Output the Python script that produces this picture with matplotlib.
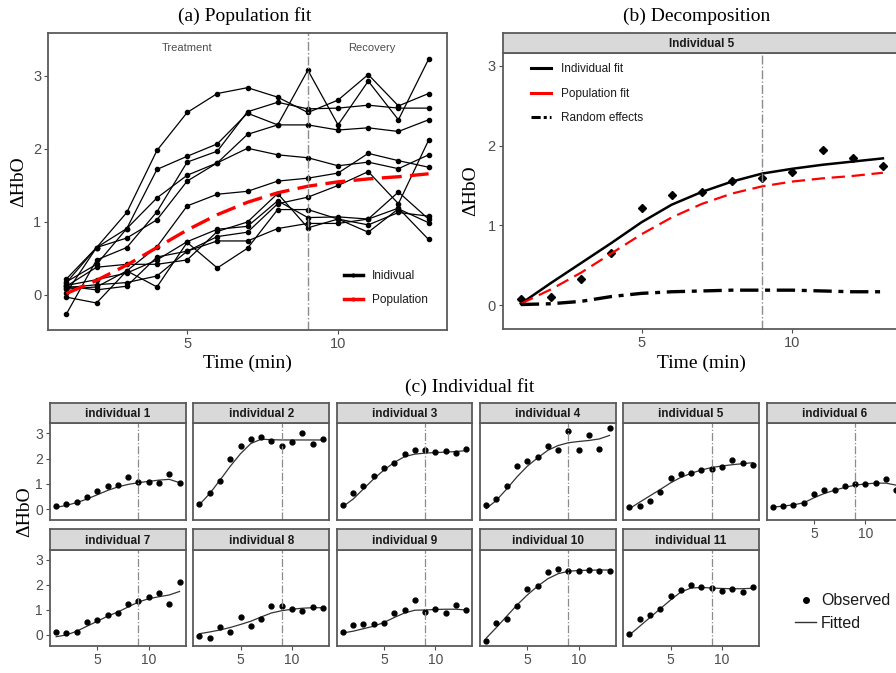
import numpy as np
import matplotlib
matplotlib.use('Agg')
from matplotlib import pyplot as plt
from matplotlib.lines import Line2D

plt.rcParams['font.family'] = ['Liberation Sans', 'DejaVu Sans']

# time points (min)
time = [1, 2, 3, 4, 5, 6, 7, 8, 9, 10, 11, 12, 13]

# observed dHbO per individual
obs_1 = [0.13, 0.21, 0.30, 0.48, 0.73, 0.90, 0.94, 1.29, 1.06, 1.07, 1.04, 1.41, 1.04]
obs_2 = [0.22, 0.65, 1.13, 1.98, 2.50, 2.76, 2.84, 2.71, 2.50, 2.67, 3.02, 2.59, 2.76]
obs_3 = [0.17, 0.65, 0.91, 1.33, 1.64, 1.81, 2.20, 2.33, 2.33, 2.26, 2.29, 2.24, 2.40]
obs_4 = [0.18, 0.42, 0.91, 1.72, 1.90, 2.07, 2.49, 2.33, 3.08, 2.33, 2.93, 2.40, 3.23]
obs_5 = [0.08, 0.11, 0.33, 0.66, 1.22, 1.38, 1.42, 1.56, 1.60, 1.67, 1.94, 1.84, 1.75]
obs_6 = [0.10, 0.14, 0.17, 0.26, 0.60, 0.74, 0.74, 0.91, 0.98, 0.98, 1.04, 1.19, 0.76]
obs_7 = [0.12, 0.07, 0.12, 0.52, 0.60, 0.80, 0.86, 1.25, 1.34, 1.50, 1.69, 1.25, 2.12]
obs_8 = [-0.03, -0.11, 0.33, 0.11, 0.72, 0.37, 0.64, 1.17, 1.17, 1.04, 0.96, 1.13, 1.08]
obs_9 = [0.12, 0.38, 0.42, 0.42, 0.48, 0.87, 1.00, 1.39, 0.92, 1.04, 0.86, 1.18, 0.99]
obs_10 = [-0.26, 0.48, 0.65, 1.14, 1.82, 1.97, 2.51, 2.64, 2.55, 2.56, 2.60, 2.56, 2.56]
obs_11 = [0.03, 0.65, 0.78, 1.03, 1.56, 1.81, 2.01, 1.92, 1.88, 1.77, 1.82, 1.73, 1.92]

# fitted curves per individual
fit_1 = [0.07, 0.15, 0.26, 0.40, 0.57, 0.74, 0.88, 0.98, 1.05, 1.10, 1.15, 1.18, 1.05]
fit_2 = [0.18, 0.62, 1.15, 1.70, 2.20, 2.60, 2.77, 2.75, 2.74, 2.74, 2.74, 2.74, 2.74]
fit_3 = [0.10, 0.40, 0.80, 1.20, 1.55, 1.85, 2.08, 2.18, 2.22, 2.24, 2.26, 2.28, 2.32]
fit_4 = [0.02, 0.35, 0.80, 1.28, 1.70, 2.03, 2.33, 2.52, 2.63, 2.68, 2.72, 2.78, 2.92]
fit_5 = [0.02, 0.28, 0.53, 0.78, 1.04, 1.26, 1.42, 1.55, 1.65, 1.71, 1.76, 1.80, 1.84]
fit_6 = [0.08, 0.12, 0.17, 0.25, 0.45, 0.62, 0.75, 0.86, 0.95, 1.00, 1.03, 1.03, 0.95]
fit_7 = [-0.07, 0.00, 0.15, 0.35, 0.55, 0.75, 0.92, 1.12, 1.32, 1.45, 1.53, 1.60, 1.74]
fit_8 = [0.05, 0.12, 0.20, 0.30, 0.42, 0.55, 0.72, 0.88, 0.97, 1.03, 1.07, 1.09, 1.09]
fit_9 = [0.08, 0.15, 0.25, 0.35, 0.50, 0.70, 0.88, 0.99, 1.00, 1.02, 1.03, 1.03, 1.00]
fit_10 = [-0.13, 0.30, 0.75, 1.20, 1.60, 1.95, 2.25, 2.45, 2.55, 2.58, 2.59, 2.60, 2.60]
fit_11 = [0.00, 0.35, 0.70, 1.05, 1.40, 1.72, 1.88, 1.90, 1.88, 1.86, 1.85, 1.85, 1.87]

# population fit and random effect of individual 5
pop_fit = [0.02, 0.20, 0.41, 0.65, 0.89, 1.10, 1.27, 1.40, 1.49, 1.55, 1.59, 1.62, 1.66]
rand_5 = [0.01, 0.02, 0.05, 0.11, 0.15, 0.17, 0.18, 0.19, 0.19, 0.19, 0.18, 0.17, 0.17]

observed = [obs_1, obs_2, obs_3, obs_4, obs_5, obs_6, obs_7, obs_8, obs_9, obs_10, obs_11]
fitted = [fit_1, fit_2, fit_3, fit_4, fit_5, fit_6, fit_7, fit_8, fit_9, fit_10, fit_11]
names = ['individual %d' % (i + 1) for i in range(len(observed))]

W, H = 896, 673
fig = plt.figure(figsize=(W / 100, H / 100), dpi=100)
SERIF = 'Liberation Serif'
TICK_C = '#4D4D4D'
FRAME_C = '#5A5A5A'


def px_axes(left, top, right, bottom):
    return fig.add_axes([left / W, 1 - bottom / H, (right - left) / W, (bottom - top) / H])


def style_panel(ax, size=10):
    for s in ax.spines.values():
        s.set_color(FRAME_C)
        s.set_linewidth(1.3)
    ax.tick_params(colors=TICK_C, labelcolor=TICK_C, length=3, width=0.8, labelsize=size, pad=2)


def strip(left, top, right, bottom, label, size=8.5):
    sax = px_axes(left, top, right, bottom)
    sax.set_facecolor('#D9D9D9')
    sax.set_xticks([])
    sax.set_yticks([])
    for s in sax.spines.values():
        s.set_color(FRAME_C)
        s.set_linewidth(1.3)
    sax.text(0.5, 0.45, label, ha='center', va='center', fontweight='bold',
             fontsize=size, color='#1A1A1A', transform=sax.transAxes)


# ---------------- (a) Population fit ----------------
axA = px_axes(48.3, 33.3, 446.7, 330)
for obs in observed:
    axA.plot(time, obs, color='black', lw=0.9, marker='o', ms=3)
axA.plot(time, pop_fit, color='red', lw=2.4, dashes=(6, 2.5))
axA.axvline(9, color='#8C8C8C', lw=1, linestyle='-.')
axA.set_xlim(0.4, 13.6)
axA.set_ylim(-0.48, 3.585)
axA.set_xticks([5, 10])
axA.set_yticks([0, 1, 2, 3])
style_panel(axA, 10.5)
axA.text(5, 3.38, 'Treatment', ha='center', va='center', fontsize=8, color=TICK_C)
axA.text(11.13, 3.38, 'Recovery', ha='center', va='center', fontsize=8, color=TICK_C)
axA.set_xlabel('Time (min)', family=SERIF, fontsize=14, labelpad=3)
axA.set_ylabel('ΔHbO', family=SERIF, fontsize=14, labelpad=4)
hA = [Line2D([], [], color='black', lw=2.5, marker='o', ms=2),
      Line2D([], [], color='red', lw=2.5, marker='o', ms=2)]
axA.legend(hA, ['Inidivual', 'Population'], loc='lower right', bbox_to_anchor=(0.98, 0.045),
           frameon=False, fontsize=8.5, handlelength=1.6, labelspacing=1.0, labelcolor='#1A1A1A')
fig.text(245 / W, 1 - 16 / H, '(a) Population fit', family=SERIF, fontsize=14,
         ha='center', va='center')

# ---------------- (b) Decomposition ----------------
axB = px_axes(502.7, 52.7, 901, 329.3)
strip(502.7, 32.7, 901, 52.7, 'Individual 5')
axB.plot(time, obs_5, linestyle='none', marker='D', ms=4.5, color='black')
axB.plot(time, fit_5, color='black', lw=1.8)
axB.plot(time, pop_fit, color='red', lw=1.6, dashes=(6, 3))
axB.plot(time, rand_5, color='black', lw=2.4, dashes=(5.5, 2, 1.5, 2))
axB.axvline(9, color='#8C8C8C', lw=1, linestyle='-.')
axB.set_xlim(0.4, 13.6)
axB.set_ylim(-0.30, 3.163)
axB.set_xticks([5, 10])
axB.set_yticks([0, 1, 2, 3])
style_panel(axB, 10.5)
axB.spines['right'].set_visible(False)
axB.set_xlabel('Time (min)', family=SERIF, fontsize=14, labelpad=3)
axB.set_ylabel('ΔHbO', family=SERIF, fontsize=14, labelpad=6)
hB = [Line2D([], [], color='black', lw=2.2),
      Line2D([], [], color='red', lw=2.2),
      Line2D([], [], color='black', lw=2.2, dashes=(3, 1, 1, 1))]
axB.legend(hB, ['Individual fit', 'Population fit', 'Random effects'], loc='upper left',
           bbox_to_anchor=(0.045, 1.0), frameon=False, fontsize=8.5, handlelength=1.7,
           labelspacing=1.05, labelcolor='#1A1A1A')
fig.text(697 / W, 1 - 16 / H, '(b) Decomposition', family=SERIF, fontsize=14,
         ha='center', va='center')

# ---------------- (c) Individual fit ----------------
col_left = [50, 193.3, 336.7, 480, 623.3, 766.7]
pw = 135.7
rows = [(403.3, 423.3, 520), (529.3, 550, 645.7)]
for i in range(len(observed)):
    r, c = divmod(i, 6)
    st, pt, pb = rows[r]
    left = col_left[c]
    ax = px_axes(left, pt, left + pw, pb)
    strip(left, st, left + pw, pt, names[i])
    ax.plot(time, fitted[i], color='#333333', lw=0.9)
    ax.plot(time, observed[i], linestyle='none', marker='o', ms=3.5, color='black')
    ax.axvline(9, color='#8C8C8C', lw=0.9, linestyle='-.')
    ax.set_xlim(0.4, 13.6)
    ax.set_ylim(-0.43, 3.40)
    style_panel(ax, 10)
    ax.set_yticks([0, 1, 2, 3])
    ax.set_xticks([5, 10])
    if c != 0:
        ax.tick_params(axis='y', left=False, labelleft=False)
    if r == 0 and c != 5:
        ax.tick_params(axis='x', bottom=False, labelbottom=False)

fig.text(470 / W, 1 - 387 / H, '(c) Individual fit', family=SERIF, fontsize=14,
         ha='center', va='center')
fig.text(25 / W, 1 - 512 / H, 'ΔHbO', family=SERIF, fontsize=14, rotation=90,
         ha='center', va='center')
hC = [Line2D([], [], linestyle='none', marker='o', ms=4, color='black'),
      Line2D([], [], color='#333333', lw=1)]
fig.legend(hC, ['Observed', 'Fitted'], loc='center left', bbox_to_anchor=(781 / W, 1 - 612 / H),
           frameon=False, fontsize=11.5, handlelength=1.3, handletextpad=0.3, labelspacing=0.45,
           labelcolor='#1A1A1A')

fig.savefig('out.png', dpi=100)
